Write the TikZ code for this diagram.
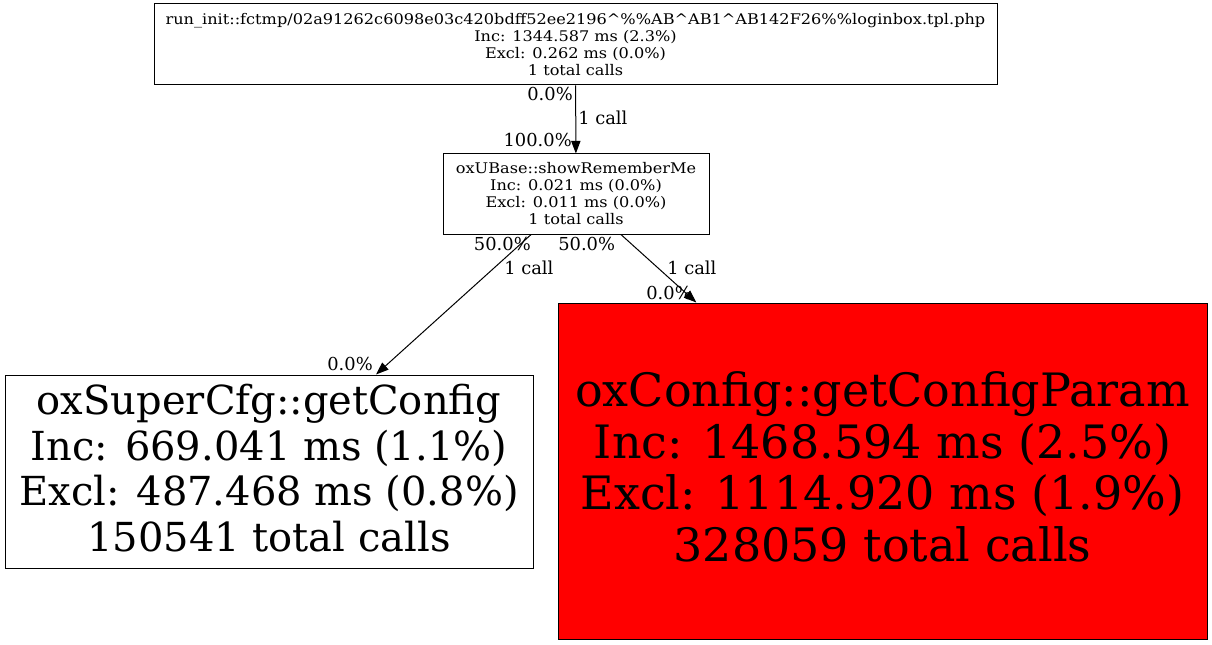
\documentclass[tikz,border=0pt]{standalone}
\usepackage{fontspec}
\setmainfont{DejaVu Serif}
\newfontfamily\smallserif[FakeStretch=1.1]{DejaVu Serif}
\usetikzlibrary{arrows.meta}
\tikzset{
  fn/.style={draw=black, line width=0.75pt, align=center, inner sep=0pt},
  fnsmall/.style={fn, font=\smallserif\fontsize{11}{12.75}\selectfont},
  lbl/.style={inner sep=0pt, font=\fontsize{13.4}{13.4}\selectfont}
}
\begin{document}
\begin{tikzpicture}[x=0.75pt,y=-0.75pt]
      \useasboundingbox (0,0) rectangle (1212,645);
      \draw
        (575.5,44.5) node[fnsmall, minimum width=632.25pt, minimum height=60.75pt] (0)
          {run\_init::fctmp/02a91262c6098e03c420bdff52ee2196\textasciicircum\%\%AB\textasciicircum AB1\textasciicircum AB142F26\%\%loginbox.tpl.php\\Inc: 1344.587 ms (2.3\%)\\Excl: 0.262 ms (0.0\%)\\1 total calls}
        (576,194) node[fnsmall, minimum width=199.5pt, minimum height=60pt] (1)
          {oxUBase::showRememberMe\\Inc: 0.021 ms (0.0\%)\\Excl: 0.011 ms (0.0\%)\\1 total calls}
        (269,471.5) node[fn, minimum width=396pt, minimum height=144.75pt, text depth=5.5pt, font=\fontsize{30}{34.1}\selectfont] (2)
          {oxSuperCfg::getConfig\\Inc: 669.041 ms (1.1\%)\\Excl: 487.468 ms (0.8\%)\\150541 total calls}
        (882.5,471) node[fn, fill=red, minimum width=486.75pt, minimum height=252pt, text depth=6.5pt, font=\fontsize{34.5}{38.6}\selectfont] (3)
          {oxConfig::getConfigParam\\Inc: 1468.594 ms (2.5\%)\\Excl: 1114.920 ms (1.9\%)\\328059 total calls};
      \begin{scope}[line width=0.75pt, -{Triangle[length=9.5pt,width=7pt]}]
        \draw (0) to (1);
        \draw (1) to (2);
        \draw (1) to (3);
      \end{scope}
      \draw
        (573,101) node[lbl, anchor=base east] (0t) {0.0\%}
        (578,125) node[lbl, anchor=base west] (01) {1 call}
        (572,146.7) node[lbl, anchor=base east] (1h) {100.0\%}
        (531,250) node[lbl, anchor=base east] (1t2) {50.0\%}
        (504,274) node[lbl, anchor=base west] (12) {1 call}
        (373,370) node[lbl, anchor=base east] (2h) {0.0\%}
        (558,250) node[lbl, anchor=base west] (1t3) {50.0\%}
        (667,274) node[lbl, anchor=base west] (13) {1 call}
        (692,299) node[lbl, anchor=base east] (3h) {0.0\%};
    \end{tikzpicture}
\end{document}
